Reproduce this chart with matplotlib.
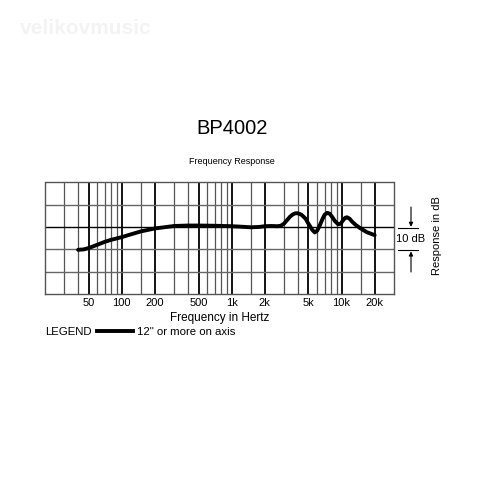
import matplotlib
matplotlib.use("Agg")
import matplotlib.pyplot as plt
from matplotlib.patches import FancyArrowPatch
from matplotlib.ticker import NullFormatter, NullLocator

plt.rcParams['font.family'] = ['Liberation Sans', 'DejaVu Sans']

# Frequency response data (Hz, dB)
freqs = [40, 45, 50, 60, 70, 80, 100, 120, 150, 200, 250, 300, 400, 500, 700,
         1000, 1300, 1500, 1800, 2000, 2300, 2600, 2800, 3000, 3200, 3400, 3600,
         3800, 4000, 4300, 4700, 5000, 5400, 5700, 6000, 6300, 6700, 7000, 7400,
         7800, 8200, 8700, 9300, 9800, 10300, 10800, 11200, 11800, 12500, 13500,
         15000, 17000, 20000]
response = [-10.2, -10.0, -9.4, -7.9, -6.6, -5.7, -4.5, -3.3, -1.9, -0.6, 0.0,
            0.5, 0.7, 0.7, 0.6, 0.4, 0.1, -0.1, 0.1, 0.4, 0.5, 0.4, 0.6, 1.6,
            3.2, 4.7, 5.7, 6.2, 6.2, 5.6, 3.8, 1.5, -1.2, -2.4, -1.6, 0.5, 3.6,
            5.5, 6.4, 6.0, 4.6, 2.7, 1.3, 1.5, 3.0, 4.2, 4.4, 3.8, 2.4, 0.9,
            -0.7, -2.3, -3.6]

grid_freqs = [30, 40, 50, 60, 70, 80, 90, 100, 150, 200, 300, 400, 500, 600,
              700, 800, 900, 1000, 1500, 2000, 3000, 4000, 5000, 6000, 7000,
              8000, 9000, 10000, 15000, 20000]
tick_freqs = [50, 100, 200, 500, 1000, 2000, 5000, 10000, 20000]
tick_labels = ["50", "100", "200", "500", "1k", "2k", "5k", "10k", "20k"]
db_lines = [-20, -10, 0, 10]

fig = plt.figure(figsize=(4.8, 4.8), dpi=100)
fig.patch.set_facecolor("white")

# faint watermark
fig.text(20/480, 1 - 28/480, "velikovmusic", fontsize=15, fontweight="bold",
         color="#f3f3f3", ha="left", va="center")

ax = fig.add_axes([45/480, 1 - 294/480, (394 - 45)/480, (294 - 182.5)/480])
ax.set_xscale("log")
ax.set_xlim(20, 30000)
ax.set_ylim(-30, 20)

for f in grid_freqs:
    if f in tick_freqs:
        ax.axvline(f, color="black", lw=1.3, zorder=1)
    else:
        ax.axvline(f, color="#555555", lw=0.9, zorder=1)
for d in db_lines:
    col = "black" if d == 0 else "#666666"
    ax.axhline(d, color=col, lw=1.0, zorder=1)

for s in ax.spines.values():
    s.set_color("#555555")
    s.set_linewidth(1.0)

ax.plot(freqs, response, color="black", lw=2.8, solid_capstyle="round",
        solid_joinstyle="round", zorder=3)

ax.xaxis.set_minor_locator(NullLocator())
ax.xaxis.set_minor_formatter(NullFormatter())
ax.set_xticks(tick_freqs)
ax.set_xticklabels(tick_labels, fontsize=8)
ax.tick_params(axis="x", length=0, pad=3)
ax.set_yticks([])

ax.set_xlabel("Frequency in Hertz", fontsize=8.5, labelpad=3)

fig.text(232/480, 1 - 128/480, "BP4002", fontsize=14.5, ha="center", va="center")
fig.text(232/480, 1 - 162/480, "Frequency Response", fontsize=6.5, ha="center", va="center")

# Legend line
fig.text(45/480, 1 - 332/480, "LEGEND", fontsize=8.2, ha="left", va="center")
fig.add_artist(plt.Line2D([97/480, 133/480], [1 - 331/480, 1 - 331/480],
                          color="black", lw=2.8, transform=fig.transFigure))
fig.text(137/480, 1 - 332/480, "12\" or more on axis", fontsize=8.2, ha="left", va="center")

# 10 dB scale marker
y0 = 1 - 228.3/480
y1 = 1 - 250/480
xa = 411/480
fig.add_artist(plt.Line2D([398/480, 418/480], [y0, y0], color="black", lw=0.8,
                          transform=fig.transFigure))
fig.add_artist(plt.Line2D([398/480, 418/480], [y1, y1], color="black", lw=0.8,
                          transform=fig.transFigure))
arrow_kw = dict(arrowstyle="-|>", color="black", lw=0.8, mutation_scale=6,
                shrinkA=0, shrinkB=0)
fig.patches.append(FancyArrowPatch((xa, 1 - 207/480), (xa, y0 + 0.003),
                                   transform=fig.transFigure, **arrow_kw))
fig.patches.append(FancyArrowPatch((xa, 1 - 272/480), (xa, y1 - 0.003),
                                   transform=fig.transFigure, **arrow_kw))
fig.text(xa, 1 - 239/480, "10 dB", fontsize=8, ha="center", va="center")
fig.text(437/480, 1 - 236/480, "Response in dB", fontsize=8, rotation=90,
         ha="center", va="center")

fig.savefig("out.png", dpi=100, facecolor="white")
